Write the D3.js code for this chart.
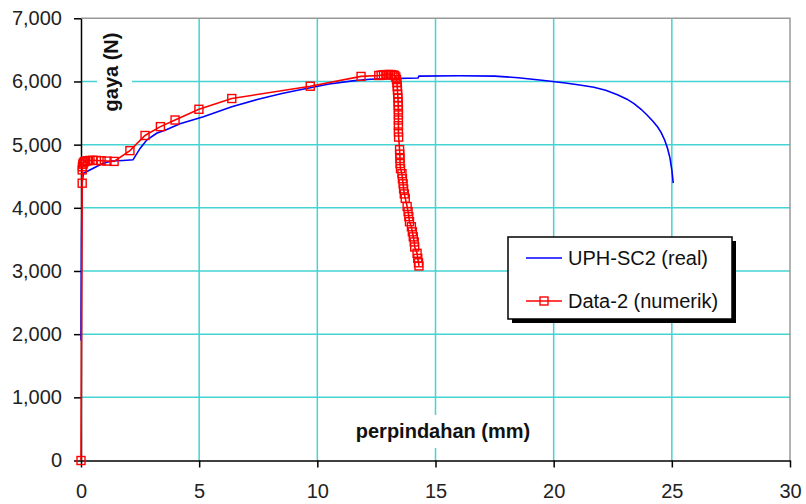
<html>
<head>
<title>gaya vs perpindahan</title>
<style>
  body { margin: 0; background: #fff; }
  text { font-family: Arial, "Liberation Sans", sans-serif; }
</style>
</head>
<body>
<script src="https://d3js.org/d3.v7.min.js"></script>
<script>
var w = 806;
var h = 504;

// tick labels
var xTicks = [0, 5, 10, 15, 20, 25, 30];
var yTicks = [0, 1000, 2000, 3000, 4000, 5000, 6000, 7000];

// UPH-SC2 (real)
var realX = [0, 0.02, 0.05, 0.1, 0.52, 0.94, 1.3, 1.78, 2.2, 2.5, 2.78, 3.2, 3.63, 4.19, 5.18, 6.38, 7.5, 8.5, 9.27, 10.5, 11.5, 12.23, 13, 14.26, 14.3, 16, 17.5, 18.5, 19.5, 20.5, 21.1, 21.7, 22.2, 22.7, 23.1, 23.4, 23.7, 23.95, 24.2, 24.4, 24.55, 24.7, 24.82, 24.92, 25.0, 25.06];
var realY = [1900, 3500, 4400, 4546, 4626, 4705, 4740, 4750, 4760, 4940, 5074, 5180, 5240, 5330, 5443, 5600, 5720, 5810, 5870, 5960, 6010, 6035, 6045, 6055, 6085, 6090, 6085, 6060, 6020, 5975, 5944, 5908, 5860, 5790, 5720, 5650, 5560, 5470, 5370, 5280, 5190, 5070, 4940, 4790, 4600, 4390];

// Data-2 (numerik)
var numX = [0, 0.05, 0.05, 0.06, 0.08, 0.1, 0.14, 0.2, 0.28, 0.38, 0.5, 0.65, 0.85, 1.1, 1.4, 2.07, 2.71, 3.36, 3.98, 4.99, 6.38, 9.7, 11.85, 12.6, 12.7, 12.8, 12.9, 13.0, 13.1, 13.2, 13.27, 13.32, 13.35, 13.37, 13.38, 13.39, 13.4, 13.41, 13.42, 13.42, 13.43, 13.43, 13.43, 13.43, 13.43, 13.44, 13.48, 13.49, 13.5, 13.5, 13.52, 13.58, 13.6, 13.63, 13.65, 13.68, 13.72, 13.8, 13.84, 13.87, 13.9, 13.98, 14.02, 14.06, 14.1, 14.12, 14.22, 14.25, 14.28, 14.3];
var numY = [0, 4390, 4600, 4650, 4690, 4710, 4730, 4740, 4745, 4750, 4752, 4750, 4745, 4740, 4735, 4905, 5145, 5285, 5390, 5560, 5730, 5925, 6080, 6095, 6100, 6105, 6108, 6110, 6110, 6105, 6095, 6070, 6030, 5980, 5920, 5860, 5800, 5740, 5680, 5620, 5550, 5470, 5390, 5300, 5200, 5120, 4920, 4850, 4780, 4700, 4620, 4540, 4460, 4380, 4300, 4220, 4150, 4020, 3940, 3860, 3780, 3700, 3620, 3540, 3460, 3380, 3280, 3200, 3130, 3080];

var realData = realX.map((d, i) => [d, realY[i]]);
var numData = numX.map((d, i) => [d, numY[i]]);

var pLeft = 81, pRight = 790, pTop = 18.3, pBottom = 460.5;

var x = d3.scaleLinear().domain([0, 30]).range([pLeft, pRight]);
var y = d3.scaleLinear().domain([0, 7000]).range([pBottom, pTop]);

var svg = d3.select('body')
            .append('svg')
            .attr('width', w)
            .attr('height', h);

var grid = '#45d3d3';

// grid lines
svg.selectAll('.hgrid')
   .data(yTicks.filter(d => d > 0 && d < 7000))
   .enter()
   .append('line')
   .attr('x1', pLeft).attr('x2', pRight)
   .attr('y1', d => y(d)).attr('y2', d => y(d))
   .attr('stroke', grid).attr('stroke-width', 1.5);

svg.selectAll('.vgrid')
   .data(xTicks.filter(d => d > 0 && d < 30))
   .enter()
   .append('line')
   .attr('x1', d => x(d)).attr('x2', d => x(d))
   .attr('y1', pTop).attr('y2', pBottom)
   .attr('stroke', grid).attr('stroke-width', 1.5);

// gray frame top / right
svg.append('path')
   .attr('d', 'M' + pLeft + ',' + pTop + 'H' + pRight + 'V' + pBottom)
   .attr('fill', 'none')
   .attr('stroke', '#999')
   .attr('stroke-width', 1.5);

// axis titles with white background
var xt = svg.append('g');
xt.append('rect').attr('x', 346).attr('y', 415).attr('width', 194).attr('height', 33).attr('fill', '#fff');
xt.append('text')
  .attr('x', 443).attr('y', 438)
  .attr('text-anchor', 'middle')
  .attr('font-size', 20).attr('font-weight', 'bold')
  .attr('fill', '#111')
  .text('perpindahan (mm)');

var yt = svg.append('g');
yt.append('rect').attr('x', 97).attr('y', 26).attr('width', 35).attr('height', 92).attr('fill', '#fff');
yt.append('text')
  .attr('transform', 'translate(118,72) rotate(-90)')
  .attr('text-anchor', 'middle')
  .attr('font-size', 20).attr('font-weight', 'bold')
  .attr('fill', '#111')
  .text('gaya (N)');

// axes
var xAxis = d3.axisBottom(x).tickValues(xTicks).tickSize(7).tickSizeOuter(0).tickFormat(d3.format('d'));
var yAxis = d3.axisLeft(y).tickValues(yTicks).tickSize(7).tickSizeOuter(0).tickFormat(d3.format(','));

var gx = svg.append('g').attr('transform', 'translate(0,' + pBottom + ')').call(xAxis);
var gy = svg.append('g').attr('transform', 'translate(' + pLeft + ',0)').call(yAxis);

[gx, gy].forEach(function(g) {
  g.select('.domain').attr('stroke', '#000').attr('stroke-width', 1.5);
  g.selectAll('.tick line').attr('stroke', '#000').attr('stroke-width', 1.5);
  g.selectAll('.tick text')
   .attr('font-size', 20)
   .attr('font-family', 'Arial, "Liberation Sans", sans-serif')
   .attr('fill', '#222');
});
gx.selectAll('.tick text').attr('y', 23);
gy.selectAll('.tick text').attr('x', -19);

// series
var line = d3.line().x(d => x(d[0])).y(d => y(d[1]));

svg.append('path')
   .datum(realData)
   .attr('d', line)
   .attr('fill', 'none')
   .attr('stroke', '#0000ff')
   .attr('stroke-width', 1.6);

svg.append('path')
   .datum(numData)
   .attr('d', line)
   .attr('fill', 'none')
   .attr('stroke', '#ff0000')
   .attr('stroke-width', 1.6);

var ms = 8;
svg.selectAll('.mk')
   .data(numData)
   .enter()
   .append('rect')
   .attr('x', d => x(d[0]) - ms / 2)
   .attr('y', d => y(d[1]) - ms / 2)
   .attr('width', ms).attr('height', ms)
   .attr('fill', 'none')
   .attr('stroke', '#ff0000')
   .attr('stroke-width', 1.4);

// legend
var lg = svg.append('g');
lg.append('rect').attr('x', 512).attr('y', 241).attr('width', 224).attr('height', 82).attr('fill', '#000');
lg.append('rect').attr('x', 508).attr('y', 237).attr('width', 224).attr('height', 82)
  .attr('fill', '#fff').attr('stroke', '#000').attr('stroke-width', 1.5);

var legItems = [
  {name: 'UPH-SC2 (real)', color: '#0000ff', marker: false},
  {name: 'Data-2 (numerik)', color: '#ff0000', marker: true}
];
legItems.forEach(function(d, i) {
  var ly = 258 + i * 43;
  lg.append('line').attr('x1', 526).attr('x2', 562).attr('y1', ly).attr('y2', ly)
    .attr('stroke', d.color).attr('stroke-width', 1.6);
  if (d.marker) {
    lg.append('rect').attr('x', 544 - ms / 2).attr('y', ly - ms / 2).attr('width', ms).attr('height', ms)
      .attr('fill', 'none').attr('stroke', d.color).attr('stroke-width', 1.4);
  }
  lg.append('text').attr('x', 568).attr('y', ly + 7)
    .attr('font-size', 20).attr('fill', '#111')
    .text(d.name);
});
</script>
</body>
</html>
